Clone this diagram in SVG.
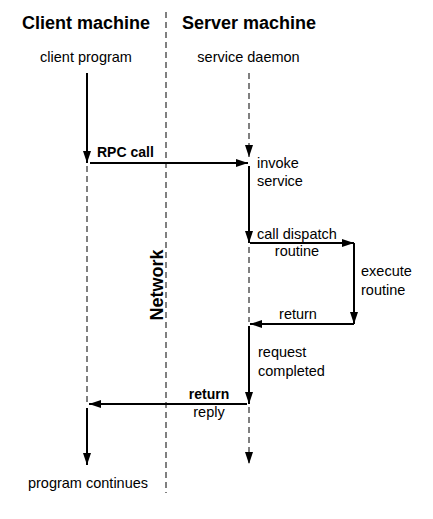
<svg xmlns="http://www.w3.org/2000/svg" width="433" height="519" viewBox="0 0 433 519">
<style>
.bg{fill:#ffffff}
.t{font-family:"Liberation Sans",Arial,sans-serif;font-size:14.5px;fill:#000}
.b{font-family:"Liberation Sans",Arial,sans-serif;font-size:14px;font-weight:bold;fill:#000}
.h{font-family:"Liberation Sans",Arial,sans-serif;font-size:18px;font-weight:bold;fill:#000}
.s{stroke:#000;stroke-width:2;fill:none}
.d{stroke:#000;stroke-width:1;fill:none;stroke-dasharray:6,4}
.ah{fill:#000;stroke:none}
</style>
<defs>
<marker id="arr" markerUnits="userSpaceOnUse" markerWidth="13" markerHeight="9" refX="12" refY="4.5" orient="auto">
<path class="ah" d="M0,0.5 L12,4.5 L0,8.5 z"/>
</marker>
</defs>
<rect class="bg" x="0" y="0" width="433" height="519"/>
<g id="headers">
<text class="h" x="86" y="29" text-anchor="middle">Client machine</text>
<text class="h" x="249" y="29" text-anchor="middle">Server machine</text>
</g>
<g id="network">
<line class="d" x1="166" y1="12" x2="166" y2="493"/>
<text class="h" transform="translate(163,285) rotate(-90)" text-anchor="middle">Network</text>
</g>
<g id="client-program"><text class="t" x="86" y="62" text-anchor="middle">client program</text></g>
<g id="service-daemon"><text class="t" x="248.5" y="62" text-anchor="middle">service daemon</text></g>
<g id="invoke-service">
<text class="t" x="257" y="168">invoke</text>
<text class="t" x="257" y="186">service</text>
</g>
<g id="execute-routine">
<text class="t" x="361" y="276">execute</text>
<text class="t" x="361" y="295">routine</text>
</g>
<g id="request-completed">
<text class="t" x="258" y="357">request</text>
<text class="t" x="258" y="376">completed</text>
</g>
<g id="program-continues"><text class="t" x="88" y="488" text-anchor="middle">program continues</text></g>
<g id="connectors">
<line class="s" x1="87" y1="73" x2="87" y2="163" marker-end="url(#arr)"/>
<line class="s" x1="90" y1="163" x2="248" y2="163" marker-end="url(#arr)"/>
<line class="d" x1="249" y1="73" x2="249" y2="157" marker-end="url(#arr)"/>
<line class="s" x1="249" y1="166" x2="249" y2="243" marker-end="url(#arr)"/>
<line class="s" x1="250" y1="243" x2="354" y2="243" marker-end="url(#arr)"/>
<line class="s" x1="354" y1="243" x2="354" y2="324" marker-end="url(#arr)"/>
<line class="s" x1="354" y1="324" x2="250" y2="324" marker-end="url(#arr)"/>
<line class="d" x1="249" y1="247" x2="249" y2="322"/>
<line class="s" x1="249" y1="326" x2="249" y2="404" marker-end="url(#arr)"/>
<line class="s" x1="247" y1="404" x2="89" y2="404" marker-end="url(#arr)"/>
<line class="d" x1="87" y1="166" x2="87" y2="402"/>
<line class="s" x1="87" y1="408" x2="87" y2="465" marker-end="url(#arr)"/>
<line class="d" x1="249" y1="407" x2="249" y2="464" marker-end="url(#arr)"/>
<text class="b" x="97" y="157">RPC call</text>
<text class="t" x="257" y="239">call dispatch</text>
<text class="t" x="297" y="256" text-anchor="middle">routine</text>
<text class="t" x="298" y="319" text-anchor="middle">return</text>
<text class="b" x="209" y="399" text-anchor="middle">return</text>
<text class="t" x="209" y="417" text-anchor="middle">reply</text>
</g>
</svg>
